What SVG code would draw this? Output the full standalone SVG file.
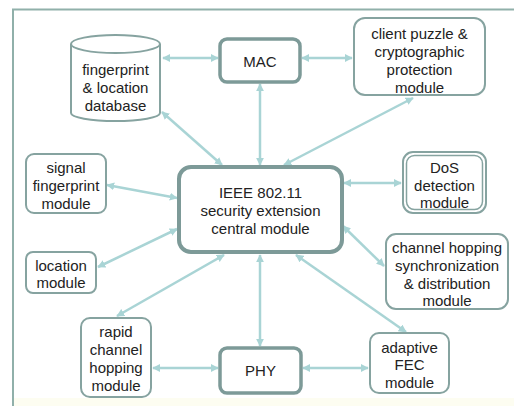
<svg xmlns="http://www.w3.org/2000/svg" width="514" height="406" viewBox="0 0 514 406">
<style>
  text { font-family: "Liberation Sans", Arial, sans-serif; font-size: 15px; fill: #222; text-anchor: middle; dominant-baseline: central; }
  .box { fill: #fff; stroke: #86a3a0; stroke-width: 2; }
  .thick { fill: #fff; stroke: #7d9a98; stroke-width: 3.5; }
  .conn line { stroke: #a9d4d5; stroke-width: 2.5; marker-start: url(#ah); marker-end: url(#ah); }
  .frame { stroke: #90b0aa; stroke-width: 2; fill: none; }
</style>
<defs>
  <marker id="ah" viewBox="0 0 10 10" refX="9" refY="5" markerWidth="8" markerHeight="8" markerUnits="userSpaceOnUse" orient="auto-start-reverse">
    <path d="M0,0 L10,5 L0,10 z" fill="#a9d4d5"/>
  </marker>
</defs>
<rect x="0" y="0" width="514" height="406" fill="#fff"/>
<rect x="14" y="398" width="500" height="8" fill="#fdfdf1"/>
<text x="273" y="-6" style="font-family:'Liberation Serif',serif;font-size:24px;dominant-baseline:alphabetic">g</text>
<path class="frame" d="M13,406 V9.5 H514"/>

<g class="conn" id="connectors">
  <line x1="163" y1="58" x2="218" y2="58"/>
  <line x1="302" y1="58" x2="352" y2="58"/>
  <line x1="260" y1="165" x2="260" y2="84"/>
  <line x1="222" y1="165" x2="162" y2="112"/>
  <line x1="284" y1="165" x2="413" y2="98"/>
  <line x1="177" y1="198" x2="107" y2="185"/>
  <line x1="344" y1="183" x2="401" y2="183"/>
  <line x1="177" y1="229" x2="98" y2="267"/>
  <line x1="343" y1="226" x2="384" y2="266"/>
  <line x1="224" y1="255" x2="117" y2="316"/>
  <line x1="260" y1="255" x2="260" y2="346"/>
  <line x1="296" y1="255" x2="406" y2="332"/>
  <line x1="153" y1="368" x2="218" y2="368"/>
  <line x1="303" y1="368" x2="368" y2="368"/>
</g>

<g id="database">
  <path class="box" d="M71,44 V113 A44.5,8 0 0 0 160,113 V44 A44.5,9 0 0 0 71,44 Z"/>
  <path class="box" style="fill:none" d="M71,44 A44.5,9 0 0 0 160,44"/>
  <text x="115.5" y="69">fingerprint</text>
  <text x="115.5" y="87">&amp; location</text>
  <text x="115.5" y="105">database</text>
</g>

<g id="mac">
  <rect class="thick" x="220" y="39" width="80" height="43" rx="7"/>
  <text x="260" y="61">MAC</text>
</g>

<g id="client-puzzle">
  <rect class="box" x="354" y="18" width="131" height="77" rx="11"/>
  <text x="419.5" y="33">client puzzle &amp;</text>
  <text x="419.5" y="51">cryptographic</text>
  <text x="419.5" y="69">protection</text>
  <text x="419.5" y="87">module</text>
</g>

<g id="central">
  <rect class="thick" x="179" y="167" width="163" height="85" rx="12" style="stroke-width:4"/>
  <text x="260.5" y="192">IEEE 802.11</text>
  <text x="260.5" y="210">security extension</text>
  <text x="260.5" y="228">central module</text>
</g>

<g id="signal-fingerprint">
  <rect class="box" x="26" y="154" width="80" height="59" rx="8"/>
  <text x="66" y="167">signal</text>
  <text x="66" y="185">fingerprint</text>
  <text x="66" y="203">module</text>
</g>

<g id="dos">
  <rect class="box" x="403" y="152" width="83" height="61" rx="10"/>
  <rect class="box" x="406.5" y="155.5" width="76" height="54" rx="8" style="stroke-width:1.5"/>
  <text x="444.5" y="167">DoS</text>
  <text x="444.5" y="185">detection</text>
  <text x="444.5" y="202">module</text>
</g>

<g id="channel-hopping">
  <rect class="box" x="386" y="234" width="122" height="75" rx="10"/>
  <text x="447" y="247">channel hopping</text>
  <text x="447" y="265">synchronization</text>
  <text x="447" y="283">&amp; distribution</text>
  <text x="447" y="300">module</text>
</g>

<g id="location">
  <rect class="box" x="26" y="252" width="70" height="41" rx="7"/>
  <text x="61" y="265">location</text>
  <text x="61" y="282">module</text>
</g>

<g id="rapid">
  <rect class="box" x="81" y="318" width="70" height="79" rx="9"/>
  <text x="116" y="331">rapid</text>
  <text x="116" y="349">channel</text>
  <text x="116" y="367">hopping</text>
  <text x="116" y="385">module</text>
</g>

<g id="phy">
  <rect class="thick" x="220" y="348" width="81" height="45" rx="7"/>
  <text x="260.5" y="370">PHY</text>
</g>

<g id="adaptive-fec">
  <rect class="box" x="370" y="333" width="79" height="60" rx="9"/>
  <text x="409.5" y="347">adaptive</text>
  <text x="409.5" y="364">FEC</text>
  <text x="409.5" y="382">module</text>
</g>
</svg>
